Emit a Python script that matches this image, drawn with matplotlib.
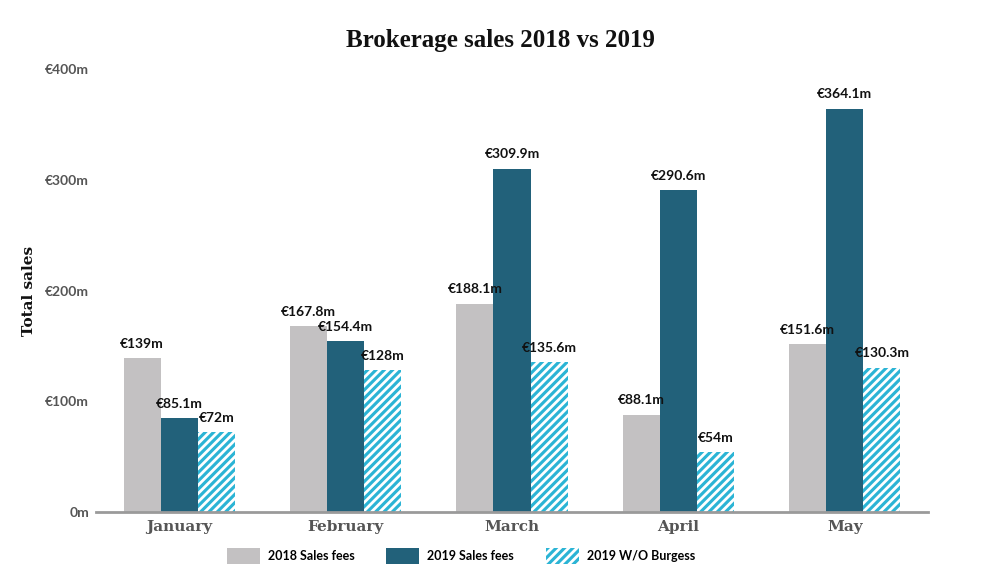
import matplotlib
matplotlib.use("Agg")
import matplotlib.pyplot as plt
import numpy as np
from matplotlib.patches import Patch

months = ["January", "February", "March", "April", "May"]
sales_2018 = [139.0, 167.8, 188.1, 88.1, 151.6]
sales_2019 = [85.1, 154.4, 309.9, 290.6, 364.1]
sales_2019_wo = [72.0, 128.0, 135.6, 54.0, 130.3]
labels_2018 = ["€139m", "€167.8m", "€188.1m", "€88.1m", "€151.6m"]
labels_2019 = ["€85.1m", "€154.4m", "€309.9m", "€290.6m", "€364.1m"]
labels_2019_wo = ["€72m", "€128m", "€135.6m", "€54m", "€130.3m"]
yticks = [0, 100, 200, 300, 400]
ytick_labels = ["0m", "€100m", "€200m", "€300m", "€400m"]
series_names = ["2018 Sales fees", "2019 Sales fees", "2019 W/O Burgess"]

c_gray = "#c3c1c2"
c_dark = "#22617a"
c_cyan = "#2bb4d5"

plt.rcParams["hatch.linewidth"] = 2.0
plt.rcParams["hatch.color"] = "white"

fig = plt.figure(figsize=(10, 5.8), dpi=100)
ax = fig.add_axes([0.096, 0.117, 0.832, 0.764])

x = np.arange(len(months))
w = 0.223
b1 = ax.bar(x - w, sales_2018, w, color=c_gray, linewidth=0)
b2 = ax.bar(x, sales_2019, w, color=c_dark, linewidth=0)
b3 = ax.bar(x + w, sales_2019_wo, w, facecolor=c_cyan, edgecolor="white",
            hatch="////", linewidth=0)

sans = ["Lato", "DejaVu Sans"]
serif = ["DejaVu Serif"]
for bars, labs in ((b1, labels_2018), (b2, labels_2019), (b3, labels_2019_wo)):
    for rect, lab in zip(bars, labs):
        ax.annotate(lab, (rect.get_x() + rect.get_width() / 2, rect.get_height()),
                    xytext=(0, 6), textcoords="offset points", ha="center",
                    va="bottom", fontsize=10, fontweight="bold", family=sans,
                    color="#111111")

ax.set_xlim(-0.5, 4.5)
ax.set_ylim(0, 400)
ax.set_yticks(yticks)
ax.set_yticklabels(ytick_labels, family=sans, fontweight="bold", fontsize=10,
                   color="#555555")
ax.set_xticks(x)
ax.set_xticklabels(months, family=serif, fontweight="bold", fontsize=11,
                   color="#555555")
ax.tick_params(axis="both", length=0)
ax.tick_params(axis="y", pad=5)
ax.tick_params(axis="x", pad=6)
for s in ("top", "right", "left"):
    ax.spines[s].set_visible(False)
ax.spines["bottom"].set_color("#9a9a9a")
ax.spines["bottom"].set_linewidth(2)

ax.set_ylabel("Total sales", family=serif, fontweight="bold", fontsize=11,
              color="#111111")
ax.yaxis.set_label_coords(-0.072, 0.5)

fig.text(0.5, 0.93, "Brokerage sales 2018 vs 2019", ha="center", va="center",
         family=["Liberation Serif"], fontweight="bold", fontsize=18,
         color="#111111")

handles = [Patch(facecolor=c_gray, linewidth=0),
           Patch(facecolor=c_dark, linewidth=0),
           Patch(facecolor=c_cyan, edgecolor="white", hatch="////", linewidth=0)]
leg = fig.legend(handles, series_names, loc="center", bbox_to_anchor=(0.461, 0.041),
                 ncol=3, frameon=False, handlelength=2.64, handleheight=1.55,
                 columnspacing=2.56, handletextpad=0.64,
                 prop={"family": sans, "weight": "bold", "size": 9})

fig.savefig("out.png", dpi=100)
